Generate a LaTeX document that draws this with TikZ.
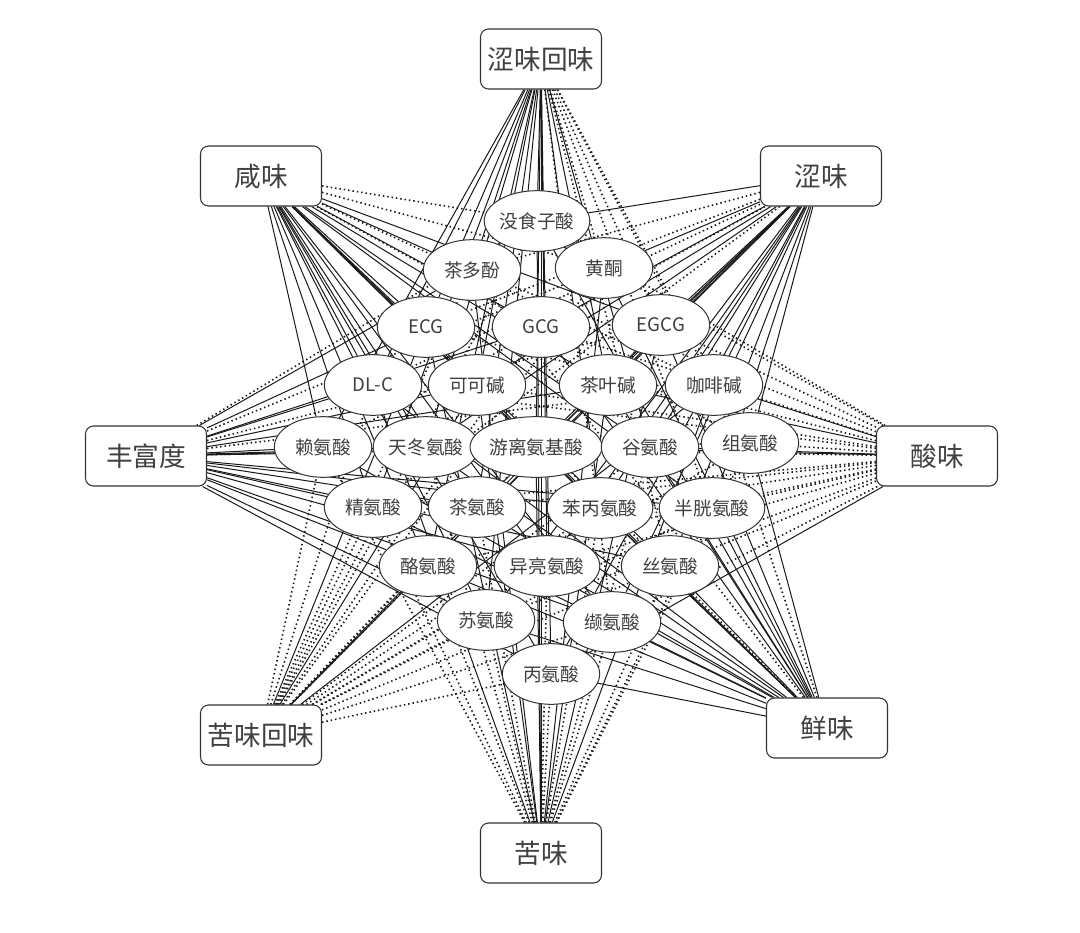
\documentclass[tikz,border=0pt]{standalone}
\usepackage{fontspec}
\setmainfont{Liberation Sans}
\newfontfamily\cjk{Noto Sans CJK SC}
\usetikzlibrary{shapes.geometric}
\pgfdeclarelayer{background}
\pgfsetlayers{background,main}
\begin{document}
\begin{tikzpicture}[x=0.75pt,y=-0.75pt,
  taste/.style={draw=black!80,line width=0.8pt,fill=white,rounded corners=6pt,minimum width=90.75pt,minimum height=45pt,inner sep=0pt,font=\cjk\fontsize{20}{22}\selectfont,text=black!75},
  comp/.style={draw=black!80,line width=0.75pt,fill=white,ellipse,minimum width=73pt,minimum height=45.5pt,inner sep=0pt,font=\cjk\fontsize{14}{16}\selectfont,text=black!75},
  poslink/.style={draw=black!90,line width=0.75pt},
  neglink/.style={draw=black!90,line width=1.2pt,dash pattern=on 1.1pt off 2.2pt}]
\useasboundingbox (0,0) rectangle (1080,932);
% taste boxes
\node[taste] (bA) at (541,59) {涩味回味};
\node[taste] (bB) at (261,176) {咸味};
\node[taste] (bC) at (821,176) {涩味};
\node[taste] (bD) at (146,456) {丰富度};
\node[taste] (bE) at (937,456) {酸味};
\node[taste] (bF) at (261,735) {苦味回味};
\node[taste] (bG) at (827,728) {鲜味};
\node[taste] (bH) at (541,853) {苦味};
% compounds
\node[comp] (e1) at (537,221) {没食子酸};
\node[comp] (e2) at (472,270) {茶多酚};
\node[comp] (e3) at (604,268) {黄酮};
\node[comp] (e4) at (426,327) {ECG};
\node[comp] (e5) at (541,327) {GCG};
\node[comp] (e6) at (661,325) {EGCG};
\node[comp] (e7) at (373,385) {DL-C};
\node[comp] (e8) at (477,385) {可可碱};
\node[comp] (e9) at (608,385) {茶叶碱};
\node[comp] (e10) at (714,385) {咖啡碱};
\node[comp] (e11) at (323,447) {赖氨酸};
\node[comp] (e12) at (426,447) {天冬氨酸};
\node[comp] (e13) at (536,447) {游离氨基酸};
\node[comp] (e14) at (650,447) {谷氨酸};
\node[comp] (e15) at (750,443) {组氨酸};
\node[comp] (e16) at (373,507) {精氨酸};
\node[comp] (e17) at (477,507) {茶氨酸};
\node[comp] (e18) at (600,508) {苯丙氨酸};
\node[comp] (e19) at (712,508) {半胱氨酸};
\node[comp] (e20) at (428,566) {酪氨酸};
\node[comp] (e21) at (547,566) {异亮氨酸};
\node[comp] (e22) at (670,566) {丝氨酸};
\node[comp] (e23) at (486,620) {苏氨酸};
\node[comp] (e24) at (612,622) {缬氨酸};
\node[comp] (e25) at (551,674) {丙氨酸};
\begin{pgfonlayer}{background}
% 涩味回味
\foreach \i in {1,2,4,5,7,8,9,11,12,13,14,16,17,18,20,21,23,25} \draw[poslink] (bA) -- (e\i);
\foreach \i in {3,6,10,15,19,22,24} \draw[neglink] (bA) -- (e\i);
% 咸味
\foreach \i in {2,4,5,6,7,8,9,11,12,13,14,16,17,18,19,20,21,22,23,24,25} \draw[poslink] (bB) -- (e\i);
\foreach \i in {1,3,10,15} \draw[neglink] (bB) -- (e\i);
% 涩味
\foreach \i in {1,3,5,6,8,9,10,12,13,14,15,17,18,19,20,21,22,23,24,25} \draw[poslink] (bC) -- (e\i);
\foreach \i in {2,4,7,11,16} \draw[neglink] (bC) -- (e\i);
% 丰富度
\foreach \i in {2,4,5,7,8,9,11,12,13,14,16,17,18,19,20,21,22,23,24,25} \draw[poslink] (bD) -- (e\i);
\foreach \i in {1,3,6,10,15} \draw[neglink] (bD) -- (e\i);
% 酸味
\foreach \i in {9,10,13,14,25} \draw[poslink] (bE) -- (e\i);
\foreach \i in {1,2,3,4,5,6,7,8,11,12,15,16,17,18,19,20,21,22,23,24} \draw[neglink] (bE) -- (e\i);
% 苦味回味
\foreach \i in {4,6,8,9,10} \draw[poslink] (bF) -- (e\i);
\foreach \i in {1,2,3,5,7,11,12,13,14,15,16,17,18,19,20,21,22,23,24,25} \draw[neglink] (bF) -- (e\i);
% 鲜味
\foreach \i in {1,3,5,6,7,8,9,11,12,13,14,15,16,17,18,19,20,21,22,23,24,25} \draw[poslink] (bG) -- (e\i);
\foreach \i in {2,4,10} \draw[neglink] (bG) -- (e\i);
% 苦味
\foreach \i in {1,2,3,4,5,6,7,8,9,10,13} \draw[poslink] (bH) -- (e\i);
\foreach \i in {11,12,14,15,16,17,18,19,20,21,22,23,24,25} \draw[neglink] (bH) -- (e\i);
\end{pgfonlayer}
\end{tikzpicture}
\end{document}
